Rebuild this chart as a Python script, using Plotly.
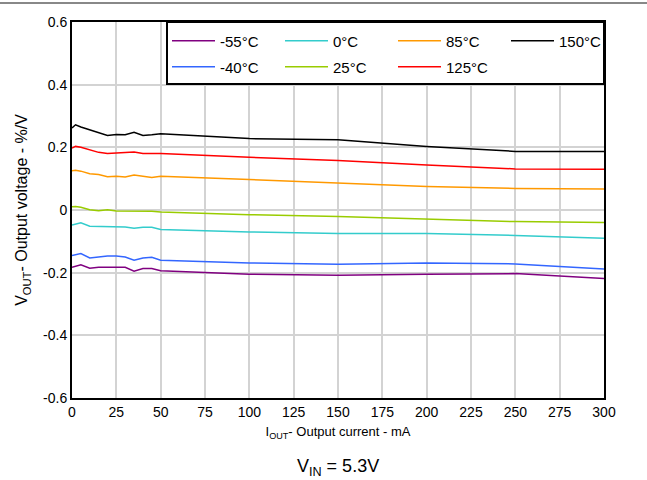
import plotly.graph_objects as go

current_ma = [0, 2, 5, 10, 15, 20, 25, 30, 35, 40, 45, 50, 100, 150, 200, 250, 300]

v_m55 = [-0.183, -0.180, -0.175, -0.186, -0.183, -0.183, -0.183, -0.183, -0.195, -0.187, -0.187, -0.194, -0.205, -0.208, -0.205, -0.203, -0.219]
v_m40 = [-0.145, -0.143, -0.139, -0.153, -0.149, -0.147, -0.147, -0.150, -0.160, -0.153, -0.151, -0.160, -0.169, -0.173, -0.169, -0.172, -0.188]
v_0 = [-0.048, -0.046, -0.041, -0.052, -0.053, -0.053, -0.053, -0.054, -0.058, -0.055, -0.055, -0.062, -0.070, -0.075, -0.075, -0.081, -0.090]
v_25 = [0.010, 0.011, 0.009, 0.001, -0.002, 0.001, -0.003, -0.003, -0.002, -0.003, -0.004, -0.006, -0.015, -0.021, -0.029, -0.037, -0.040]
v_85 = [0.125, 0.127, 0.124, 0.116, 0.113, 0.106, 0.108, 0.105, 0.112, 0.108, 0.104, 0.108, 0.097, 0.088, 0.075, 0.069, 0.067]
v_125 = [0.198, 0.203, 0.200, 0.192, 0.184, 0.180, 0.182, 0.183, 0.185, 0.180, 0.181, 0.180, 0.168, 0.158, 0.144, 0.131, 0.130]
v_150 = [0.262, 0.272, 0.265, 0.256, 0.246, 0.238, 0.241, 0.240, 0.248, 0.238, 0.240, 0.243, 0.228, 0.224, 0.203, 0.187, 0.187]

x_ticks = [0, 25, 50, 75, 100, 125, 150, 175, 200, 225, 250, 275, 300]
y_ticks = [-0.6, -0.4, -0.2, 0, 0.2, 0.4, 0.6]
y_tick_labels = ["-0.6", "-0.4", "-0.2", "0", "0.2", "0.4", "0.6"]

# (name, values, colour, legend row)
series = [
    ("-55°C", v_m55, "#800080", "legend"),
    ("0°C", v_0, "#33CCCC", "legend"),
    ("85°C", v_85, "#FF9900", "legend"),
    ("150°C", v_150, "#000000", "legend"),
    ("-40°C", v_m40, "#3366FF", "legend2"),
    ("25°C", v_25, "#99CC00", "legend2"),
    ("125°C", v_125, "#FF0000", "legend2"),
]

fig = go.Figure()
for name, vals, color, leg in series:
    fig.add_trace(go.Scatter(x=current_ma, y=vals, mode="lines", name=name,
                             legend=leg, line=dict(color=color, width=1.5)))

font_family = "Liberation Sans, Arial, sans-serif"

# pixel helpers for the fixed 647x480 layout (plot area 72..604 x 22..398)
def px_x(p):
    return (p - 72) / 532

def px_y(p):
    return (398 - p) / 376

legend_common = dict(
    orientation="h", xanchor="left", yanchor="middle",
    entrywidth=55, entrywidthmode="pixels",
    bgcolor="rgba(0,0,0,0)", borderwidth=0,
    font=dict(family=font_family, size=15, color="black"),
    itemwidth=43,
)

fig.update_layout(
    width=647, height=480,
    margin=dict(l=72, r=43, t=22, b=82, autoexpand=False),
    paper_bgcolor="white", plot_bgcolor="white",
    font=dict(family=font_family, size=14, color="#000000"),
    showlegend=True,
    legend=dict(x=px_x(167), y=px_y(41), **legend_common),
    legend2=dict(x=px_x(167), y=px_y(67), **legend_common),
    xaxis=dict(
        range=[0, 300], tickvals=x_ticks, ticktext=[str(v) for v in x_ticks],
        showgrid=True, gridcolor="#D3D3D3", gridwidth=1.5,
        showline=True, linecolor="black", linewidth=2, mirror=True,
        zeroline=False, ticks="", tickfont=dict(size=14),
        title=dict(text="I<sub>OUT</sub>- Output current - mA", font=dict(size=13), standoff=8),
    ),
    yaxis=dict(
        range=[-0.6, 0.6], tickvals=y_ticks, ticktext=y_tick_labels,
        showgrid=True, gridcolor="#D3D3D3", gridwidth=1.5,
        showline=True, linecolor="black", linewidth=2, mirror=True,
        zeroline=False, ticks="", tickfont=dict(size=14),
        title=dict(text="V<sub>OUT</sub>- Output voltage - %/V", font=dict(size=16), standoff=11),
    ),
    shapes=[
        dict(type="line", xref="paper", yref="paper",
             x0=px_x(0), x1=px_x(647), y0=px_y(3), y1=px_y(3),
             line=dict(color="#888888", width=2)),
        dict(type="rect", xref="paper", yref="paper", layer="above",
             x0=px_x(167), x1=1, y0=px_y(84), y1=1,
             fillcolor="white", line=dict(color="black", width=2)),
    ],
    annotations=[dict(text="V<sub>IN</sub> = 5.3V", xref="paper", yref="paper",
                      x=0.5, y=px_y(467), xanchor="center", yanchor="middle",
                      showarrow=False, font=dict(size=18, family=font_family))],
)

fig.write_html("out.html",
               config={"displayModeBar": False},
               post_script="document.body.style.margin='0';document.body.style.padding='0';")
